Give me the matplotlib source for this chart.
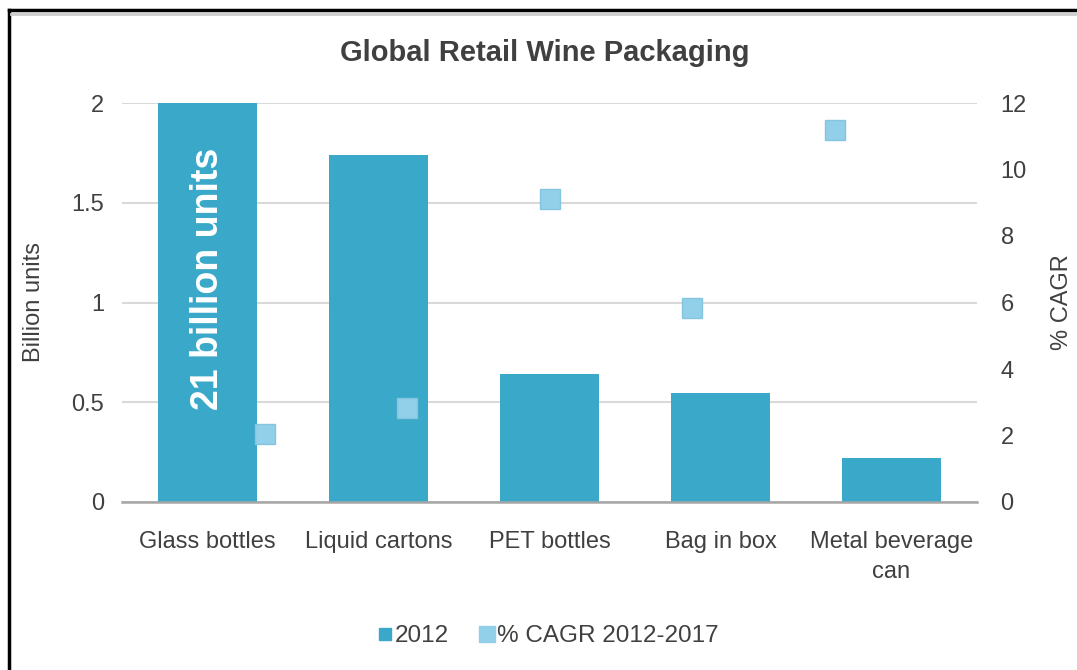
import matplotlib
matplotlib.use("Agg")
import matplotlib.pyplot as plt
from matplotlib.lines import Line2D

plt.rcParams["font.family"] = ["Liberation Sans", "DejaVu Sans"]

# dados
categorias = ["Glass bottles", "Liquid cartons", "PET bottles", "Bag in box",
              "Metal beverage\ncan"]
unidades_2012 = [21.0, 1.74, 0.64, 0.545, 0.22]   # bilhões de unidades
cagr_2012_2017 = [2.05, 2.83, 9.1, 5.83, 11.2]    # % CAGR

COR_BARRA = "#3aa8c8"
COR_PONTO = "#92cfe8"
COR_TEXTO = "#404040"

fig = plt.figure(figsize=(10.77, 6.70), dpi=100)
pos = [122 / 1077, 1 - 502 / 670, 855 / 1077, 399 / 670]

ax = fig.add_axes(pos)
xs = list(range(len(categorias)))
ax.bar(xs, unidades_2012, width=0.58, color=COR_BARRA, zorder=2)
ax.set_xlim(-0.5, len(categorias) - 0.5)
ax.set_ylim(0, 2)
ax.set_yticks([0, 0.5, 1, 1.5, 2])
ax.set_yticklabels(["0", "0.5", "1", "1.5", "2"])
ax.set_xticks(xs)
ax.set_xticklabels(categorias, fontsize=17, color=COR_TEXTO, linespacing=1.45)
ax.tick_params(axis="x", length=0, pad=21)
ax.tick_params(axis="y", length=0, pad=13, labelsize=17, labelcolor=COR_TEXTO)
ax.grid(axis="y", color="#d9d9d9", lw=1.5, zorder=0)
ax.set_axisbelow(True)
for s in ["top", "right", "left"]:
    ax.spines[s].set_visible(False)
ax.spines["bottom"].set_color("#a6a6a6")
ax.spines["bottom"].set_linewidth(1.8)
ax.spines["bottom"].set_zorder(3)
ax.set_ylabel("Billion units", fontsize=17, color=COR_TEXTO)
ax.yaxis.set_label_coords(-0.09, 0.5)

ax.text(0, 1.12, "21 billion units", rotation=90, ha="center", va="center",
        color="white", fontsize=27, fontweight="bold", zorder=4)

# eixo secundário (pontos CAGR) com escala x própria
ax2 = fig.add_axes(pos, frameon=False)
ax2.patch.set_visible(False)
ax2.plot(xs, cagr_2012_2017, ls="none", marker="s", ms=14,
         mfc=COR_PONTO, mec="#86c5df", mew=1, zorder=5)
ax2.set_xlim(-1, 5)
ax2.set_ylim(0, 12)
ax2.set_yticks(range(0, 13, 2))
ax2.xaxis.set_visible(False)
ax2.yaxis.tick_right()
ax2.yaxis.set_label_position("right")
ax2.tick_params(axis="y", length=0, pad=17, labelsize=17, labelcolor=COR_TEXTO)
ax2.set_ylabel("% CAGR", fontsize=17, color=COR_TEXTO)
ax2.yaxis.set_label_coords(1.087, 0.5)

fig.text(545 / 1077, 1 - 53 / 670, "Global Retail Wine Packaging",
         ha="center", va="center", fontsize=21, fontweight="bold",
         color=COR_TEXTO)

handles = [
    Line2D([], [], ls="none", marker="s", ms=8, mfc=COR_BARRA, mec=COR_BARRA),
    Line2D([], [], ls="none", marker="s", ms=11, mfc=COR_PONTO, mec=COR_PONTO),
]
leg = fig.legend(handles, ["2012", "% CAGR 2012-2017"], loc="center",
                 bbox_to_anchor=(548 / 1077, 1 - 636 / 670), ncol=2,
                 frameon=False, fontsize=17.5, handlelength=0.6,
                 handletextpad=0.1, columnspacing=1.3)
for t in leg.get_texts():
    t.set_color(COR_TEXTO)

# moldura da imagem (só esquerda e topo)
fig.add_artist(Line2D([9 / 1077, 9 / 1077], [0, 1 - 10 / 670],
                      transform=fig.transFigure, color="black", lw=2.5))
fig.add_artist(Line2D([9 / 1077, 1], [1 - 10 / 670, 1 - 10 / 670],
                      transform=fig.transFigure, color="black", lw=2.5))
fig.add_artist(Line2D([11 / 1077, 1], [1 - 14 / 670, 1 - 14 / 670],
                      transform=fig.transFigure, color="#cccccc", lw=2))

fig.savefig("out.png", dpi=100)
